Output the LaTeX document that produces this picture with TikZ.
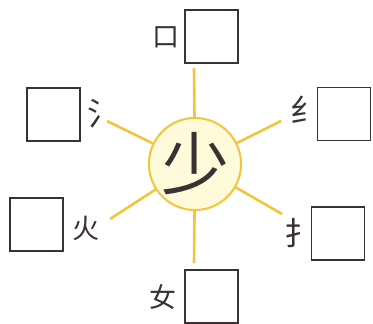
\documentclass[tikz,border=0pt]{standalone}
\usepackage{fontspec}
\newfontfamily\cjk{Noto Sans CJK SC}
\definecolor{sunyellow}{HTML}{F2C53A}
\definecolor{sunfill}{HTML}{FFFBDA}
\definecolor{inkgrey}{HTML}{3A3232}
\tikzset{every node/.style={font=\fontsize{24}{24}\selectfont\cjk}}
\newcommand{\fC}{\fontsize{68}{68}\selectfont\cjk}
\newcommand{\fL}{\fontsize{27}{27}\selectfont\cjk}
\newcommand{\fR}{\fontsize{32}{32}\selectfont\cjk}

\begin{document}
\begin{tikzpicture}[x=1pt,y=-1pt,
    ans/.style={draw=inkgrey,line width=1.4pt,fill=white,minimum size=53pt,inner sep=0pt},
    rad/.style={inner sep=0pt,outer sep=0pt,text=inkgrey,font=\fL},
    part/.style={rad,font=\fR},
    ray/.style={draw=sunyellow,line width=2.6pt}]
  \path[use as bounding box] (0,0) rectangle (373,324);

  % sun with the character in the middle
  \node[circle,draw=sunyellow,line width=2pt,fill=sunfill,minimum size=88pt,
    inner sep=0pt,text=inkgrey,font=\fC] (sun) at (195,164) {少};

  % ray ends, clockwise from the top
  \coordinate (rN)  at (194,68);
  \coordinate (rNE) at (281,121);
  \coordinate (rSE) at (282,214);
  \coordinate (rS)  at (194,263);
  \coordinate (rSW) at (110,219);
  \coordinate (rNW) at (107,121);
  \foreach \r in {rN,rNE,rSE,rS,rSW,rNW}
    \draw[ray] (sun) -- (\r);

  % answer boxes and their radicals
  \node[ans]  (bN)  at (211.5,36.5)  {};
  \node[rad]  (lN)  at (166,37)      {口};
  \node[ans]  (bNE) at (344,114)     {};
  \node[part] (lNE) at (306,110)     {纟};
  \node[ans]  (bSE) at (338,233.5)   {};
  \node[part] (lSE) at (300,233)     {扌};
  \node[ans]  (bS)  at (211.5,296.5) {};
  \node[rad]  (lS)  at (163,297)     {女};
  \node[ans]  (bSW) at (36.5,224.5)  {};
  \node[rad]  (lSW) at (86,228)      {火};
  \node[ans]  (bNW) at (53.5,114.5)  {};
  \node[part] (lNW) at (103,114)     {氵};
\end{tikzpicture}
\end{document}
